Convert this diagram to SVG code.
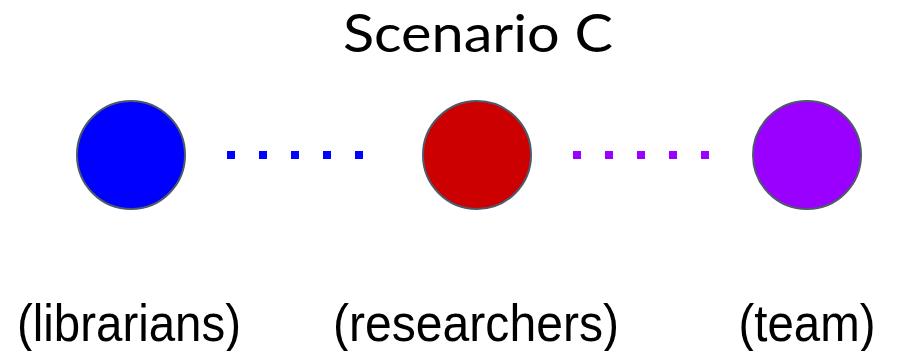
<svg xmlns="http://www.w3.org/2000/svg" width="897" height="351" viewBox="0 0 897 351">
<style>
.node{stroke:#4d5a6a;stroke-width:2}
.lbl{font-family:"Liberation Sans",Arial,sans-serif;font-size:52px;fill:#000;text-anchor:middle}
.title{font-family:Lato,"Open Sans",sans-serif;font-size:52px;fill:#000;text-anchor:middle}
.dot{stroke-width:8;stroke-dasharray:8 24;fill:none}
</style>
<rect width="897" height="351" fill="#fff"/>
<text class="title" x="478" y="52" textLength="270" lengthAdjust="spacingAndGlyphs">Scenario C</text>
<g id="connectors">
<line class="dot" x1="227" y1="155" x2="363" y2="155" stroke="#0000ff"/>
<line class="dot" x1="573" y1="155" x2="709" y2="155" stroke="#9900ff"/>
</g>
<g id="librarians">
<circle class="node" cx="131" cy="155" r="54" fill="#0000ff"/>
<text class="lbl" x="129" y="341" textLength="224" lengthAdjust="spacingAndGlyphs">(librarians)</text>
</g>
<g id="researchers">
<circle class="node" cx="477" cy="155" r="54" fill="#cc0000"/>
<text class="lbl" x="476" y="341" textLength="286" lengthAdjust="spacingAndGlyphs">(researchers)</text>
</g>
<g id="team">
<circle class="node" cx="807" cy="155" r="54" fill="#9900ff"/>
<text class="lbl" x="807" y="341" textLength="137" lengthAdjust="spacingAndGlyphs">(team)</text>
</g>
</svg>
